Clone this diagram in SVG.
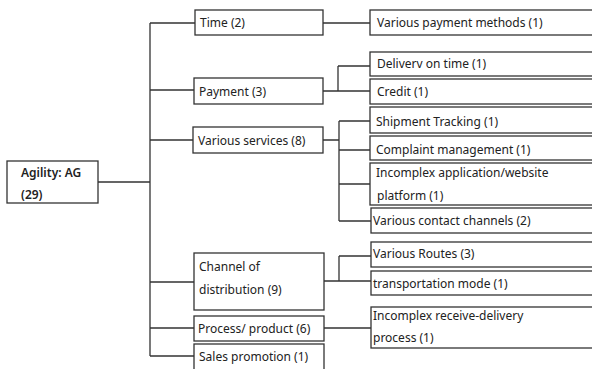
<svg xmlns="http://www.w3.org/2000/svg" width="592" height="369" viewBox="0 0 592 369">
<style>
.b{fill:#fff;stroke:#333;stroke-width:1.3}
.c{fill:none;stroke:#333;stroke-width:1.3}
text{font-family:"Noto Sans","DejaVu Sans",sans-serif;font-size:12px;fill:#222}
.r{font-weight:600}
</style>
<rect width="592" height="369" fill="#fff"/>
<g id="connectors">
<path class="c" d="M98 182H150M150 23V356M150 23H195M150 90H194M150 140H193M150 282H194M150 328H194M150 356H194"/>
<path class="c" d="M323 23H370M323 91H338M338 66V91M338 66H370M338 91H370"/>
<path class="c" d="M323 140H339M339 121V221M339 121H370M339 150H370M339 184H370M339 221H371"/>
<path class="c" d="M324 281H339M339 256V281M339 256H371M339 281H371M324 328H371"/>
</g>
<g id="root"><rect class="b" x="7" y="161" width="91" height="42"/><text class="r" x="21" y="177">Agility: AG</text><text class="r" x="21" y="199">(29)</text></g>
<g id="time"><rect class="b" x="195" y="10" width="128" height="25"/><text x="200" y="27">Time (2)</text></g>
<g id="payment"><rect class="b" x="194" y="78" width="129" height="26"/><text x="199" y="96">Payment (3)</text></g>
<g id="services"><rect class="b" x="193" y="127" width="130" height="26"/><text x="198" y="145">Various services (8)</text></g>
<g id="channel"><rect class="b" x="194" y="253" width="130" height="57"/><text x="199" y="271">Channel of</text><text x="199" y="294">distribution (9)</text></g>
<g id="process"><rect class="b" x="194" y="316" width="130" height="25"/><text x="198" y="333">Process/ product (6)</text></g>
<g id="sales"><rect class="b" x="194" y="344" width="130" height="30"/><text x="199" y="361">Sales promotion (1)</text></g>
<g id="paymethods"><rect class="b" x="370" y="10" width="240" height="25"/><text x="377" y="27">Various payment methods (1)</text></g>
<g id="delivery"><rect class="b" x="370" y="52" width="240" height="24"/><text x="377" y="68">Deliverv on time (1)</text></g>
<g id="credit"><rect class="b" x="370" y="79" width="240" height="25"/><text x="377" y="96">Credit (1)</text></g>
<g id="tracking"><rect class="b" x="370" y="107" width="240" height="26"/><text x="376" y="126">Shipment Tracking (1)</text></g>
<g id="complaint"><rect class="b" x="370" y="136" width="240" height="24"/><text x="376" y="154">Complaint management (1)</text></g>
<g id="app"><rect class="b" x="370" y="163" width="240" height="42"/><text x="376" y="177">Incomplex application/website</text><text x="377" y="200">platform (1)</text></g>
<g id="contact"><rect class="b" x="371" y="208" width="240" height="25"/><text x="373" y="225">Various contact channels (2)</text></g>
<g id="routes"><rect class="b" x="371" y="242" width="240" height="25"/><text x="373" y="258">Various Routes (3)</text></g>
<g id="mode"><rect class="b" x="371" y="271" width="240" height="24"/><text x="373" y="288">transportation mode (1)</text></g>
<g id="receive"><rect class="b" x="371" y="307" width="240" height="41"/><text x="373" y="320">Incomplex receive-delivery</text><text x="373" y="342">process (1)</text></g>
</svg>
